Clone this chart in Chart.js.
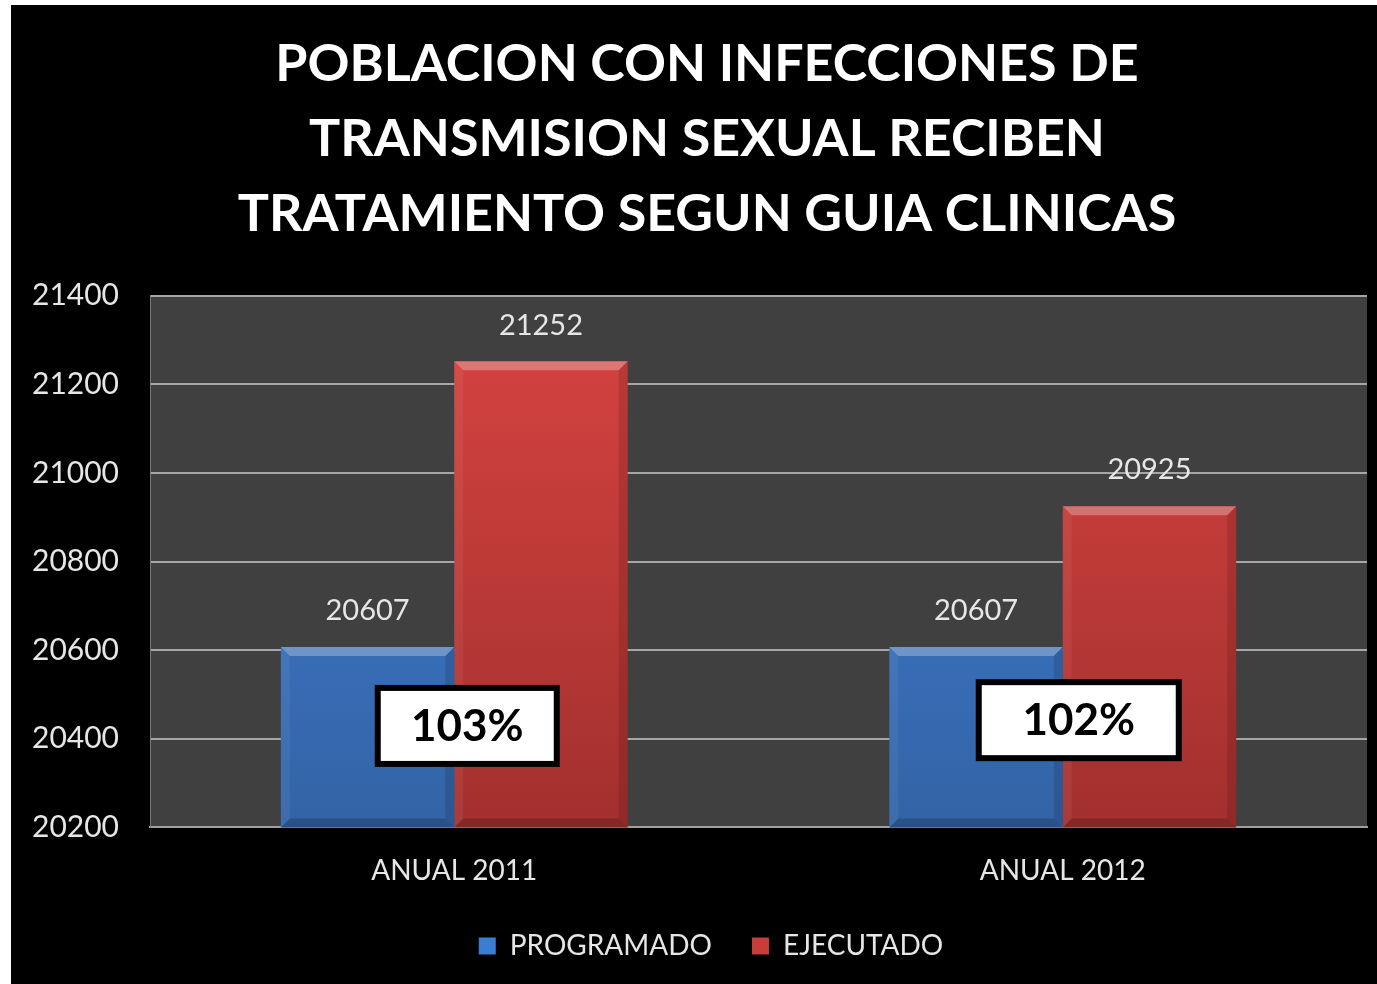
<!DOCTYPE html>
<html>
<head>
<meta charset="utf-8">
<script src="https://cdn.jsdelivr.net/npm/chart.js@4/dist/chart.umd.min.js"></script>
<style>
  html,body{margin:0;padding:0;background:#fff;width:1377px;height:984px;overflow:hidden;}
  #wrap{position:absolute;left:11px;top:5px;width:1366px;height:979px;background:#000;}
</style>
</head>
<body>
<div id="wrap"><canvas id="c"></canvas></div>
<script>
// === data ===
const categories = ["ANUAL 2011", "ANUAL 2012"];
const programado = [20607, 20607];
const ejecutado  = [21252, 20925];
const pctLabels  = ["103%", "102%"];
const pctAt      = [20429, 20442];   // y value where the % box sits
const titleLines = ["POBLACION CON INFECCIONES DE", "TRANSMISION SEXUAL RECIBEN", "TRATAMIENTO SEGUN GUIA CLINICAS"];

// === helpers ===
function vgrad(chart, top, bottom){
  const a = chart.chartArea;
  if(!a) return top;
  const g = chart.ctx.createLinearGradient(0, a.top, 0, a.bottom);
  g.addColorStop(0, top); g.addColorStop(1, bottom);
  return g;
}

// plot background
const plotBg = {
  id:"plotBg",
  beforeDraw(chart){
    const {ctx, chartArea:a} = chart;
    ctx.save(); ctx.fillStyle = "#404040";
    ctx.fillRect(a.left, a.top, a.right-a.left, a.bottom-a.top);
    ctx.restore();
  }
};

// nudge title/legend to sit where the original has them
const nudge = {
  id:"nudge",
  afterLayout(chart){
    if(chart.titleBlock){ chart.titleBlock.left += 18; chart.titleBlock.right += 18; }
    if(chart.legend){ chart.legend.left += 22; chart.legend.right += 22; }
  }
};

// bevel look on the bars
const bevel = {
  id:"bevel",
  afterDatasetsDraw(chart){
    const ctx = chart.ctx, b = 9, a = chart.chartArea;
    ctx.save();
    chart.data.datasets.forEach((ds, di)=>{
      chart.getDatasetMeta(di).data.forEach(bar=>{
        const p = bar.getProps(["x","y","base","width"], true);
        const y = p.y, base = Math.min(p.base, a.bottom);
        const l = p.x - p.width/2, r = p.x + p.width/2;
        // top
        ctx.fillStyle = "rgba(255,255,255,0.28)";
        ctx.beginPath(); ctx.moveTo(l, y); ctx.lineTo(r, y); ctx.lineTo(r-b, y+b); ctx.lineTo(l+b, y+b); ctx.closePath(); ctx.fill();
        // left
        ctx.fillStyle = "rgba(255,255,255,0.06)";
        ctx.beginPath(); ctx.moveTo(l, y); ctx.lineTo(l+b, y+b); ctx.lineTo(l+b, base-b); ctx.lineTo(l, base); ctx.closePath(); ctx.fill();
        // right
        ctx.fillStyle = "rgba(0,0,0,0.12)";
        ctx.beginPath(); ctx.moveTo(r, y); ctx.lineTo(r-b, y+b); ctx.lineTo(r-b, base-b); ctx.lineTo(r, base); ctx.closePath(); ctx.fill();
        // bottom
        ctx.fillStyle = "rgba(0,0,0,0.18)";
        ctx.beginPath(); ctx.moveTo(l, base); ctx.lineTo(l+b, base-b); ctx.lineTo(r-b, base-b); ctx.lineTo(r, base); ctx.closePath(); ctx.fill();
      });
    });
    ctx.restore();
  }
};

// values above bars + % boxes
const labelsPlugin = {
  id:"labelsPlugin",
  afterDatasetsDraw(chart){
    const ctx = chart.ctx;
    ctx.save();
    ctx.font = "29px Lato";
    ctx.fillStyle = "#e6e6e6";
    ctx.textAlign = "center"; ctx.textBaseline = "middle";
    chart.data.datasets.forEach((ds, di)=>{
      chart.getDatasetMeta(di).data.forEach((bar, i)=>{
        ctx.fillText(ds.data[i], bar.x, bar.y - 36);
      });
    });
    // % boxes
    const x = chart.scales.x, y = chart.scales.y;
    pctLabels.forEach((t, i)=>{
      const cx = x.getPixelForValue(i) + (i===0 ? 13 : 16);
      const cy = y.getPixelForValue(pctAt[i]);
      const w = i===0 ? 179 : 200, h = 76;
      ctx.fillStyle = "#fff";
      ctx.fillRect(cx - w/2, cy - h/2, w, h);
      ctx.lineWidth = 6; ctx.strokeStyle = "#000";
      ctx.strokeRect(cx - w/2, cy - h/2, w, h);
      ctx.fillStyle = "#000";
      ctx.font = "bold 44px Lato";
      ctx.fillText(t, cx, cy + 1);
    });
    ctx.restore();
  }
};

const chart = new Chart(document.getElementById("c"), {
  type:"bar",
  data:{
    labels: categories,
    datasets:[
      { label:"PROGRAMADO", data: programado,
        backgroundColor: c => vgrad(c.chart, "#3f82d6", "#3363a6"), borderWidth:0 },
      { label:"EJECUTADO", data: ejecutado,
        backgroundColor: c => vgrad(c.chart, "#d84441", "#a2302e"), borderWidth:0 }
    ]
  },
  options:{
    responsive:true, maintainAspectRatio:false, animation:false,
    layout:{ padding:{ left:0, right:10, top:0, bottom:14 } },
    datasets:{ bar:{ categoryPercentage:0.57, barPercentage:1.0 } },
    plugins:{
      title:{ display:true, text:titleLines, color:"#fff",
        font:{ family:"Lato", size:52, weight:"bold", lineHeight:1.44 },
        padding:{ top:22, bottom:44 } },
      legend:{ position:"bottom",
        labels:{ color:"#e6e6e6", font:{ family:"Lato", size:28 }, boxWidth:17, boxHeight:17, padding:40,
          generateLabels: ch => [
            { text:"PROGRAMADO", fillStyle:"#3b7dd0", strokeStyle:"#3b7dd0", lineWidth:0, fontColor:"#e6e6e6", datasetIndex:0 },
            { text:"EJECUTADO",  fillStyle:"#c83c3c", strokeStyle:"#c83c3c", lineWidth:0, fontColor:"#e6e6e6", datasetIndex:1 }
          ] } },
      tooltip:{ enabled:false }
    },
    scales:{
      x:{
        afterFit: s => { s.height = s.height - 23; },
        grid:{ display:false, drawTicks:false },
        border:{ color:"#a0a0a0", width:2 },
        ticks:{ color:"#e6e6e6", font:{ family:"Lato", size:28 }, padding:27 }
      },
      y:{
        min:20200, max:21400,
        afterFit: s => { s.width = 139; },
        grid:{ color:"#a6a6a6", lineWidth:2, drawTicks:false },
        border:{ color:"#7a7a7a", width:1 },
        ticks:{ stepSize:200, color:"#e6e6e6", font:{ family:"Lato", size:30 }, padding:31,
          callback: v => String(v) }
      }
    }
  },
  plugins:[plotBg, nudge, bevel, labelsPlugin]
});
</script>
</body>
</html>
